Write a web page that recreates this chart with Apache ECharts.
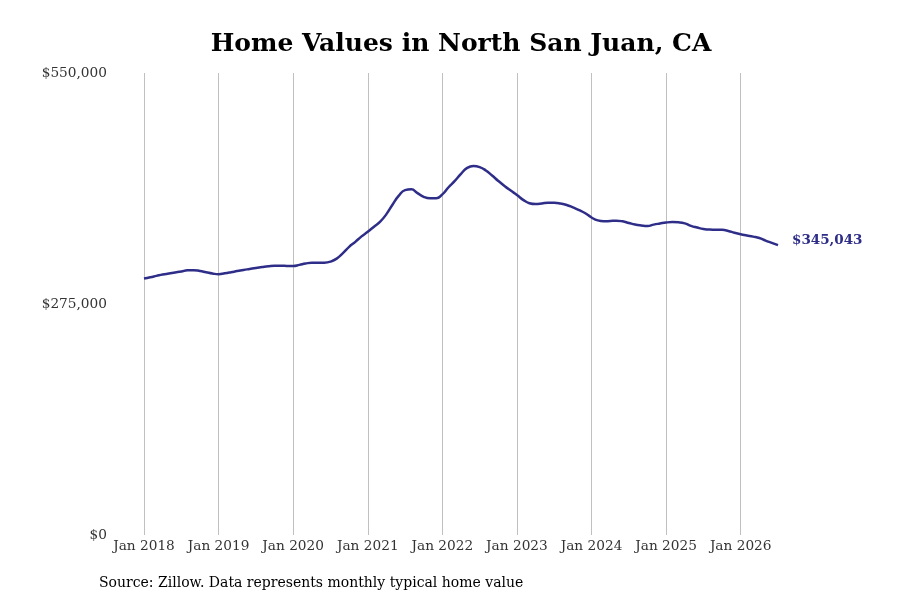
<!DOCTYPE html>
<html>
<head>
<meta charset="utf-8">
<script src="https://cdn.jsdelivr.net/npm/echarts@6/dist/echarts.min.js"></script>
<style>html,body{margin:0;padding:0;background:#fff}#c{width:900px;height:600px}</style>
</head>
<body>
<div id="c"></div>
<script>
const startYear = 2018;
const monthCount = 103; // Jan 2018 .. Jul 2026
const monthNames = ['Jan','Feb','Mar','Apr','May','Jun','Jul','Aug','Sep','Oct','Nov','Dec'];
const categories = [];
for (let i = 0; i < monthCount; i++) {
  categories.push(monthNames[i % 12] + ' ' + (startYear + Math.floor(i / 12)));
}
const homeValues = [
  305400, 306900, 308500, 310100, 311300, 312500, 313700, 315200, 315300, 314300, 312800, 311300,
  310400, 311500, 312800, 314200, 315500, 316700, 317900, 319000, 320000, 320600, 320600, 320300,
  320200, 321600, 323200, 324100, 324000, 324100, 325400, 329000, 335500, 343000, 349000, 355500,
  361000, 367000, 373000, 382000, 393500, 404000, 410500, 411500, 407000, 402500, 400800, 400800,
  405500, 414000, 421500, 430000, 437000, 439300, 438000, 434000, 428000, 421500, 415500, 410000,
  404800, 399000, 395000, 394000, 394600, 395600, 395500, 394600, 392900, 390000, 386800, 383000,
  378000, 374500, 373500, 373800, 374200, 373400, 371500, 369600, 368500, 367900, 369500, 370800,
  372000, 372500, 372200, 371000, 368000, 366000, 364300, 363600, 363500, 363300, 362000, 359800,
  358000, 356600, 355200, 353500, 350500, 347800, 345043
];
const yTicks = [0, 275000, 550000];
const titleText = 'Home Values in North San Juan, CA';
const sourceText = 'Source: Zillow. Data represents monthly typical home value';

const fmt = v => '$' + v.toLocaleString('en-US');
const serif = '"DejaVu Serif", serif';
const chart = echarts.init(document.getElementById('c'));
chart.setOption({
  animation: false,
  backgroundColor: '#fff',
  graphic: [{
    type: 'text',
    x: 461,
    y: 44,
    style: { text: titleText, font: 'bold 25px "DejaVu Serif", serif', fill: '#000', textAlign: 'center', textVerticalAlign: 'middle' }
  }, {
    type: 'text',
    left: 99,
    top: 576,
    style: { text: sourceText, font: '14px "DejaVu Serif", serif', fill: '#000' }
  }],
  grid: { left: 144, right: 122, top: 73, bottom: 65, containLabel: false },
  xAxis: {
    type: 'category',
    data: categories,
    boundaryGap: false,
    axisLine: { show: false },
    axisTick: { show: false },
    axisLabel: {
      interval: (i) => i % 12 === 0,
      fontFamily: serif, fontSize: 13.7, color: '#333', margin: 4
    },
    splitLine: { show: true, interval: (i) => i % 12 === 0, lineStyle: { color: '#c0c0c0', width: 1 } }
  },
  yAxis: {
    type: 'value',
    min: yTicks[0],
    max: yTicks[2],
    interval: yTicks[1],
    axisLine: { show: false },
    axisTick: { show: false },
    splitLine: { show: false },
    axisLabel: { formatter: fmt, fontFamily: serif, fontSize: 13.7, color: '#333', margin: 37, padding: [4, 0, 0, 0] }
  },
  series: [{
    type: 'line',
    data: homeValues,
    smooth: true,
    symbol: 'none',
    lineStyle: { color: '#2e2d88', width: 2.5 },
    endLabel: {
      show: true,
      formatter: p => fmt(p.value),
      fontFamily: serif, fontWeight: 'bold', fontSize: 13.5, color: '#2e2d88',
      offset: [6, -5]
    }
  }]
});
</script>
</body>
</html>
